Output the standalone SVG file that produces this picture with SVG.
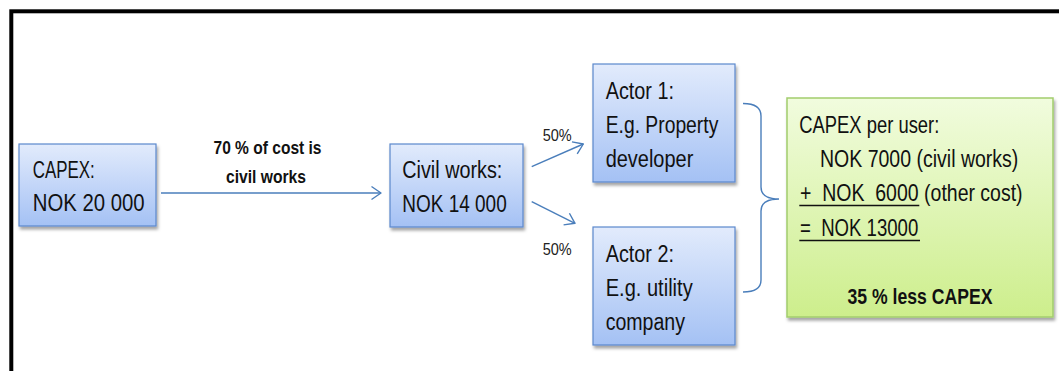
<svg xmlns="http://www.w3.org/2000/svg" width="1059" height="371" viewBox="0 0 1059 371">
  <defs>
    <linearGradient id="blueFill" x1="0" y1="0" x2="0" y2="1">
      <stop offset="0" stop-color="#e2ebfc"/>
      <stop offset="1" stop-color="#a4c1f4"/>
    </linearGradient>
    <linearGradient id="greenFill" x1="0" y1="0" x2="0" y2="1">
      <stop offset="0" stop-color="#f1fcde"/>
      <stop offset="1" stop-color="#cdee8c"/>
    </linearGradient>
    <filter id="shadow" x="-10%" y="-10%" width="125%" height="130%">
      <feDropShadow dx="1.5" dy="3" stdDeviation="1.8" flood-color="#000" flood-opacity="0.35"/>
    </filter>
    <marker id="openHead" markerUnits="userSpaceOnUse" markerWidth="14" markerHeight="16" viewBox="0 0 14 16" refX="11" refY="8" orient="auto">
      <path d="M1.5,1.5 L11,8 L1.5,14.5" fill="none" stroke="#4a7ebb" stroke-width="1.4" stroke-linejoin="round"/>
    </marker>
  </defs>
  <style>
    .blue { fill: url(#blueFill); stroke: #5b88cc; stroke-width: 1.2; filter: url(#shadow); }
    .green { fill: url(#greenFill); stroke: #a2cd6c; stroke-width: 1.5; filter: url(#shadow); }
    .t { font-family: "Liberation Sans", Arial, sans-serif; font-size: 23.5px; fill: #111; }
    .lbl { font-family: "Liberation Sans", Arial, sans-serif; font-size: 18.5px; font-weight: bold; fill: #111; }
    .pct { font-family: "Liberation Sans", Arial, sans-serif; font-size: 17px; fill: #222; }
    .big { font-family: "Liberation Sans", Arial, sans-serif; font-size: 21.5px; font-weight: bold; fill: #111; }
    .link { fill: none; stroke: #4a7ebb; stroke-width: 1.4; }
    .ul { stroke: #111; stroke-width: 1.5; }
  </style>

  <rect width="1059" height="371" fill="#fff"/>
  <!-- outer frame, running off the right and bottom edges -->
  <rect x="11.3" y="11.3" width="1070" height="380" fill="none" stroke="#000" stroke-width="4"/>

  <g id="capex">
    <rect class="blue" x="19" y="144" width="137" height="82"/>
    <text class="t" x="32.7" y="178" textLength="62" lengthAdjust="spacingAndGlyphs">CAPEX:</text>
    <text class="t" x="32.7" y="211" textLength="112" lengthAdjust="spacingAndGlyphs">NOK 20 000</text>
  </g>

  <g id="civil-works">
    <rect class="blue" x="390" y="144" width="133" height="83"/>
    <text class="t" x="402.3" y="177.7" textLength="100" lengthAdjust="spacingAndGlyphs">Civil works:</text>
    <text class="t" x="402.3" y="211.7" textLength="104.4" lengthAdjust="spacingAndGlyphs">NOK 14 000</text>
  </g>

  <g id="actor-1">
    <rect class="blue" x="593" y="64" width="142" height="118"/>
    <text class="t" x="605.7" y="98.5" textLength="68.3" lengthAdjust="spacingAndGlyphs">Actor 1:</text>
    <text class="t" x="605.7" y="132.5" textLength="112.6" lengthAdjust="spacingAndGlyphs">E.g. Property</text>
    <text class="t" x="605.7" y="166.5" textLength="87.6" lengthAdjust="spacingAndGlyphs">developer</text>
  </g>

  <g id="actor-2">
    <rect class="blue" x="593" y="227" width="142" height="118"/>
    <text class="t" x="605.7" y="262" textLength="68.3" lengthAdjust="spacingAndGlyphs">Actor 2:</text>
    <text class="t" x="605.7" y="296" textLength="87" lengthAdjust="spacingAndGlyphs">E.g. utility</text>
    <text class="t" x="605.7" y="330" textLength="79.3" lengthAdjust="spacingAndGlyphs">company</text>
  </g>

  <g id="capex-per-user">
    <rect class="green" x="787" y="98" width="266" height="219"/>
    <text class="t" x="799.3" y="133" textLength="140" lengthAdjust="spacingAndGlyphs">CAPEX per user:</text>
    <text class="t" x="820" y="167" textLength="198.3" lengthAdjust="spacingAndGlyphs">NOK 7000 (civil works)</text>
    <!-- condensed horizontally with a scale so the whole line fits the box -->
    <text class="t" transform="translate(800 201) scale(0.83 1)" xml:space="preserve">+  NOK  6000 (other cost)</text>
    <line class="ul" x1="799.3" y1="205.5" x2="919.3" y2="205.5"/>
    <text class="t" x="800" y="235.5" textLength="118.3" lengthAdjust="spacingAndGlyphs" xml:space="preserve">=  NOK 13000</text>
    <line class="ul" x1="799.3" y1="240.5" x2="920" y2="240.5"/>
    <text class="big" x="920" y="303.5" text-anchor="middle" textLength="145" lengthAdjust="spacingAndGlyphs">35 % less CAPEX</text>
  </g>

  <g id="connectors">
    <path class="link" d="M161,193 L381,193" marker-end="url(#openHead)"/>
    <text class="lbl" x="267.5" y="154.3" text-anchor="middle" textLength="108" lengthAdjust="spacingAndGlyphs">70 % of cost is</text>
    <text class="lbl" x="266" y="183.3" text-anchor="middle" textLength="80" lengthAdjust="spacingAndGlyphs">civil works</text>

    <path class="link" d="M531.7,166.7 L583.3,144" marker-end="url(#openHead)"/>
    <text class="pct" x="542.7" y="140.7" textLength="29" lengthAdjust="spacingAndGlyphs">50%</text>

    <path class="link" d="M531.7,201.7 L575,223.3" marker-end="url(#openHead)"/>
    <text class="pct" x="542.7" y="255" textLength="29" lengthAdjust="spacingAndGlyphs">50%</text>

    <!-- curly brace gathering both actors -->
    <path class="link" d="M743,103.5 Q761,103.5 761,116 L761,187 Q761,199 779,199 Q761,199 761,211 L761,280 Q761,292 743,292"/>
  </g>
</svg>
